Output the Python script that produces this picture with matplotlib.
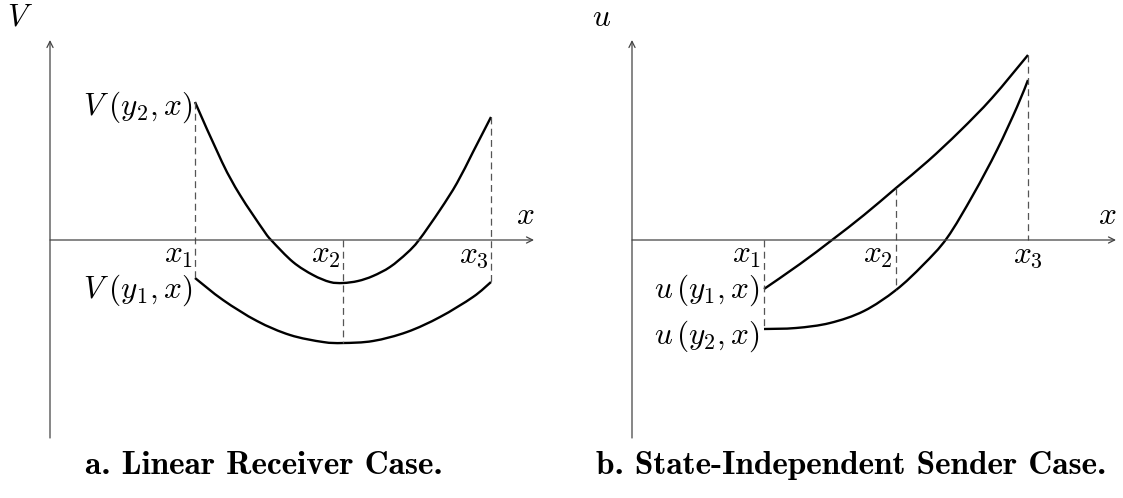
import os
import matplotlib
matplotlib.use('Agg')
import matplotlib.pyplot as plt
from matplotlib.font_manager import FontProperties
from matplotlib.path import Path
from matplotlib.patches import PathPatch

plt.rcParams['mathtext.fontset'] = 'cm'

# ------------------------------
# DATA (origin at the axes cross of each panel)
# ------------------------------
# panel a: linear receiver case
left_cuts = [145, 293, 441]
left_cut_labels = [r'$x_1$', r'$x_2$', r'$x_3$']

v_y2_x = [145, 172, 190, 214, 222, 243, 263, 280, 293, 308, 323, 340, 357, 369, 390, 407, 423, 441]
v_y2_y = [138, 78, 45, 9, -1, -22, -35, -42, -43, -41, -36, -27, -13, 0, 30, 57, 88, 123]

v_y1_x = [145, 173, 207, 240, 273, 293, 323, 357, 390, 423, 441]
v_y1_y = [-38, -60, -81, -95, -102, -103, -101, -92, -77, -57, -42]

# panel b: state-independent sender case
right_cuts = [132, 264, 396]
right_cut_labels = [r'$x_1$', r'$x_2$', r'$x_3$']

u_y1_x = [132, 168, 200, 232, 264, 296, 328, 360, 396]
u_y1_y = [-49, -24, 0, 25, 52, 79, 109, 142, 185]

u_y2_x = [132, 164, 198, 232, 264, 291, 315, 341, 365, 385, 396]
u_y2_y = [-89, -88, -83, -71, -50, -25, 2, 45, 90, 133, 160]

captions = ['a. Linear Receiver Case.', 'b. State-Independent Sender Case.']

# ------------------------------
# STYLE
# ------------------------------
AXIS_COLOR = '#444444'
DASH_COLOR = '#555555'
FS = 22.5
bold_cm = FontProperties(
    fname=os.path.join(matplotlib.get_data_path(), 'fonts', 'ttf', 'cmb10.ttf'),
    size=24)

fig = plt.figure(figsize=(11.23, 4.98), dpi=100)


def make_panel(rect, x_left):
    ax = fig.add_axes(rect)
    ax.set_xlim(x_left, x_left + 561.5)
    ax.set_ylim(-258, 240)
    ax.axis('off')
    return ax


def draw_axes(ax, y_name):
    arrow = dict(arrowstyle='->', color=AXIS_COLOR, lw=0.9,
                 shrinkA=0, shrinkB=0, mutation_scale=11)
    ax.annotate('', xy=(0, 200), xytext=(0, -198), arrowprops=arrow)
    ax.annotate('', xy=(484, 0), xytext=(0, 0), arrowprops=arrow)
    ax.text(-30, 223, y_name, fontsize=FS, ha='center', va='center')
    ax.text(475, 25, r'$x$', fontsize=FS, ha='center', va='center')


def dashed(ax, x, y0, y1):
    ax.plot([x, x], [y0, y1], color=DASH_COLOR, lw=0.9, dashes=(5.5, 3.5))


def smooth_curve(ax, xs, ys):
    # draw a smooth line through the read points (catmull-rom as bezier)
    pts = list(zip(xs, ys))
    ext = [pts[0]] + pts + [pts[-1]]
    verts = [pts[0]]
    codes = [Path.MOVETO]
    for i in range(1, len(ext) - 2):
        p0, p1, p2, p3 = ext[i - 1], ext[i], ext[i + 1], ext[i + 2]
        c1 = (p1[0] + (p2[0] - p0[0]) / 6, p1[1] + (p2[1] - p0[1]) / 6)
        c2 = (p2[0] - (p3[0] - p1[0]) / 6, p2[1] - (p3[1] - p1[1]) / 6)
        verts += [c1, c2, p2]
        codes += [Path.CURVE4] * 3
    ax.add_patch(PathPatch(Path(verts, codes), fill=False, edgecolor='black',
                           lw=1.7, capstyle='butt'))


# ------------------------------
# PANEL A
# ------------------------------
ax1 = make_panel([0, 0, 0.5, 1], -50)
draw_axes(ax1, r'$V$')

dashed(ax1, left_cuts[0], v_y2_y[0], v_y1_y[0])
dashed(ax1, left_cuts[1], 0, v_y1_y[5])
dashed(ax1, left_cuts[2], v_y2_y[-1], v_y1_y[-1])

smooth_curve(ax1, v_y2_x, v_y2_y)
smooth_curve(ax1, v_y1_x, v_y1_y)

for c, lab in zip(left_cuts, left_cut_labels):
    ax1.text(c - 2, -16, lab, fontsize=FS, ha='right', va='center')

ax1.text(left_cuts[0] - 3, 133, r'$V\;(y_2,x)$', fontsize=FS, ha='right', va='center')
ax1.text(left_cuts[0] - 3, -50, r'$V\;(y_1,x)$', fontsize=FS, ha='right', va='center')

ax1.text(214, -225, captions[0], fontproperties=bold_cm, ha='center', va='center')

# ------------------------------
# PANEL B
# ------------------------------
ax2 = make_panel([0.5, 0, 0.5, 1], -70.5)
draw_axes(ax2, r'$u$')

dashed(ax2, right_cuts[0], 0, u_y2_y[0])
dashed(ax2, right_cuts[1], u_y1_y[4], u_y2_y[4])
dashed(ax2, right_cuts[2], u_y1_y[-1], 0)

smooth_curve(ax2, u_y1_x, u_y1_y)
smooth_curve(ax2, u_y2_x, u_y2_y)

ax2.text(right_cuts[0] - 3, -16, right_cut_labels[0], fontsize=FS, ha='right', va='center')
ax2.text(right_cuts[1] - 3, -16, right_cut_labels[1], fontsize=FS, ha='right', va='center')
ax2.text(right_cuts[2], -16, right_cut_labels[2], fontsize=FS, ha='center', va='center')

ax2.text(right_cuts[0] - 4, -50, r'$u\,(y_1,x)$', fontsize=FS, ha='right', va='center')
ax2.text(right_cuts[0] - 4, -96, r'$u\,(y_2,x)$', fontsize=FS, ha='right', va='center')

ax2.text(219, -225, captions[1], fontproperties=bold_cm, ha='center', va='center')

fig.savefig('out.png', dpi=100)
